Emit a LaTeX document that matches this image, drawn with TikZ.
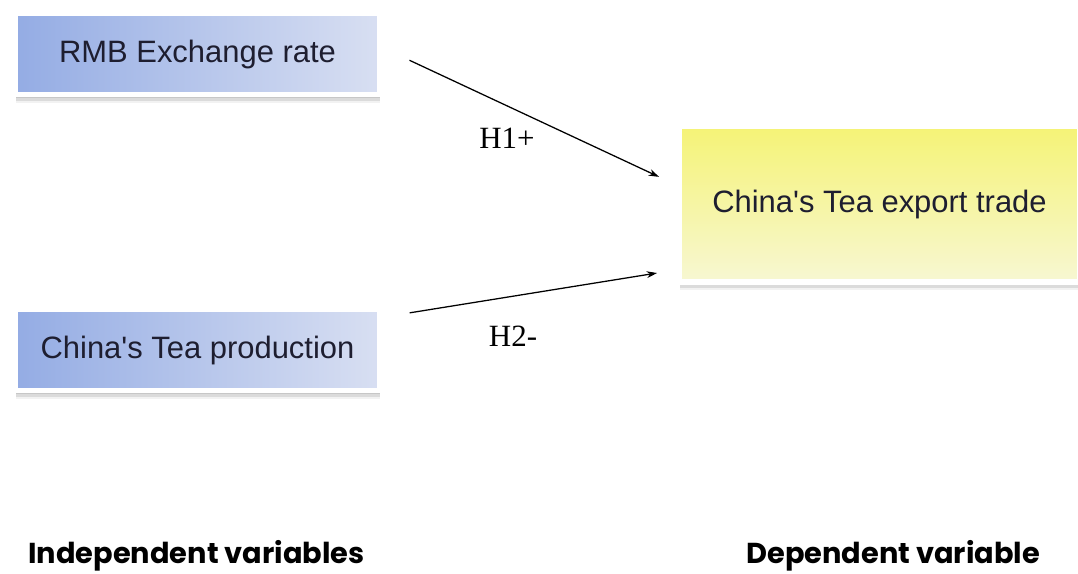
\documentclass[tikz,border=0pt]{standalone}
\usepackage{xcolor}
\usepackage{fontspec}
\setmainfont{Liberation Sans}
\newfontfamily\hypfont{Liberation Serif}
\newfontfamily\capfont{Poppins}
\usepackage{tikz}
\usetikzlibrary{positioning, arrows.meta, shadows, calc}

\definecolor{varblue}{RGB}{148,172,228}
\definecolor{varblueL}{RGB}{216,223,242}
\definecolor{teaY}{RGB}{245,243,118}
\definecolor{teaYL}{RGB}{247,247,210}
\definecolor{boxtext}{RGB}{30,30,48}

\begin{document}
\begin{tikzpicture}[
    x=0.025cm, y=-0.025cm,
    softshadow/.style={
        drop shadow={shadow xshift=0cm, shadow yshift=-0.02cm, opacity=0.12, shadow scale=1.012},
        drop shadow={shadow xshift=0.01cm, shadow yshift=-0.09cm, opacity=0.22},
        drop shadow={shadow xshift=0.02cm, shadow yshift=-0.15cm, opacity=0.2},
        drop shadow={shadow xshift=0.02cm, shadow yshift=-0.21cm, opacity=0.1}},
    indep/.style={softshadow, draw=white, line width=0.12cm, left color=varblue, right color=varblueL,
        minimum width=9.1cm, minimum height=2.04cm, inner sep=0pt, text=boxtext,
        font=\fontsize{22}{26}\selectfont},
    dep/.style={softshadow, draw=white, line width=0.15cm, top color=teaY, bottom color=teaYL,
        minimum width=10cm, minimum height=3.875cm, inner sep=0pt, text=boxtext,
        font=\fontsize{22}{26}\selectfont},
    hyp/.style={line width=0.9pt, -{Stealth[length=0.26cm, width=0.17cm]}},
    hlabel/.style={font=\hypfont\fontsize{22}{26}\selectfont},
    group/.style={font=\capfont\bfseries\fontsize{20.5}{24}\selectfont, anchor=base west, inner sep=0pt},
]
\useasboundingbox (0,0) rectangle (1078,573);

\node[indep] (rmb) at (197.5, 54) {RMB Exchange rate};
\node[indep] (prod) at (197.5, 350) {China\textquotesingle s Tea production};
\node[dep] (export) at (879.5, 204) {China\textquotesingle s Tea export trade};

\draw[hyp, shorten <=0.76cm, shorten >=0.48cm] ($(rmb.east)+(0,-6.6)$) -- ($(export.west)+(0,-19)$);
\draw[hyp, shorten <=0.7cm, shorten >=0.49cm] ($(prod.east)+(0,-32.7)$) -- ($(export.west)+(0,65.9)$);

\node[hlabel] (h1) at (507, 138) {H1+};
\node[hlabel] (h2) at (513, 336) {H2-};

% variable groups
\node[group] (indlab) at (28, 563) {Independent variables};
\node[group] (deplab) at (746, 563) {Dependent variable};
\end{tikzpicture}
\end{document}
